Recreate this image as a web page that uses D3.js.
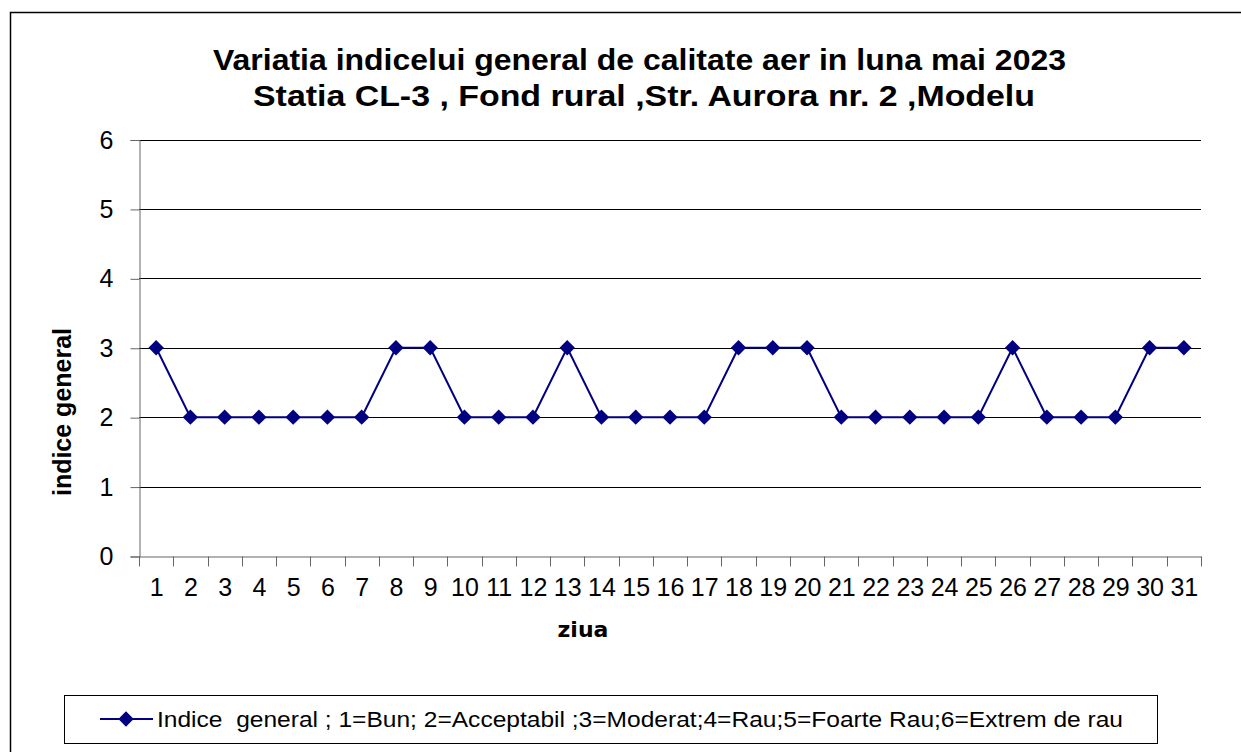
<!DOCTYPE html>
<html>
<head>
<meta charset="utf-8">
<script src="https://cdn.jsdelivr.net/npm/d3@7"></script>
<style>
  body { margin: 0; background: #fff; }
  svg { display: block; }
  text { font-family: "Liberation Sans", Arial, sans-serif; fill: #000; }
</style>
</head>
<body>
<svg id="chart" width="1241" height="752"></svg>
<script>
// data
var days = d3.range(1, 32).map(String);
var indiceGeneral = [3, 2, 2, 2, 2, 2, 2, 3, 3, 2, 2, 2, 3, 2, 2, 2, 2, 3, 3, 3, 2, 2, 2, 2, 2, 3, 2, 2, 2, 3, 3];
var yTicks = [0, 1, 2, 3, 4, 5, 6];
var titleLines = ['Variatia indicelui general de calitate aer in luna mai 2023',
  'Statia CL-3 , Fond rural ,Str. Aurora nr. 2 ,Modelu'];
var legendLabel = 'Indice  general ; 1=Bun; 2=Acceptabil ;3=Moderat;4=Rau;5=Foarte Rau;6=Extrem de rau';

var svg = d3.select('#chart');
var plotLeft = 139, plotRight = 1201, plotTop = 139.5, plotBottom = 556;
var navy = '#000080';

// outer frame
svg.append('rect').attr('x', 10.5).attr('y', 12.5).attr('width', 1250).attr('height', 760)
  .attr('fill', 'none').attr('stroke', '#000').attr('stroke-width', 1.5);

var x = d3.scaleBand().domain(days).range([plotLeft, plotRight]);
var y = d3.scaleLinear().domain([0, 6]).range([plotBottom, plotTop]);

// title (reference text is a bit wider than the font, so stretch it)
svg.append('text').attr('x', 213).attr('y', 70)
  .attr('textLength', 853).attr('lengthAdjust', 'spacingAndGlyphs')
  .style('font-size', '29px').style('font-weight', 'bold').text(titleLines[0]);
svg.append('text').attr('x', 253).attr('y', 106)
  .attr('textLength', 782).attr('lengthAdjust', 'spacingAndGlyphs')
  .style('font-size', '29px').style('font-weight', 'bold').text(titleLines[1]);

// gridlines
svg.append('g').selectAll('line').data(yTicks.filter(function(d) { return d > 0; })).enter()
  .append('line').attr('x1', plotLeft).attr('x2', plotRight)
  .attr('y1', function(d) { return Math.round(y(d)) + 0.5; })
  .attr('y2', function(d) { return Math.round(y(d)) + 0.5; })
  .attr('stroke', '#000').attr('stroke-width', 1);

// y axis
var yAxis = svg.append('g').attr('transform', 'translate(' + (plotLeft + 0.5) + ',0.5)')
  .call(d3.axisLeft(y).tickValues(yTicks).tickFormat(d3.format('d')).tickSize(9).tickPadding(17));
yAxis.select('.domain').attr('stroke', '#666');
yAxis.selectAll('.tick line').attr('stroke', '#666');
yAxis.selectAll('.tick text').style('font-size', '25px').attr('font-family', null);

// x axis
var xAxis = svg.append('g').attr('transform', 'translate(0.5,' + (Math.round(plotBottom) + 0.5) + ')')
  .call(d3.axisBottom(x).tickSize(0).tickSizeOuter(0).tickPadding(22));
xAxis.select('.domain').attr('stroke', '#666');
xAxis.selectAll('.tick text').style('font-size', '25px').attr('font-family', null);
xAxis.append('g').selectAll('line').data(days.concat(['end'])).enter().append('line')
  .attr('x1', function(d, i) { return Math.round(plotLeft + i * x.step()); })
  .attr('x2', function(d, i) { return Math.round(plotLeft + i * x.step()); })
  .attr('y1', 0).attr('y2', 10).attr('stroke', '#666');

// axis titles
svg.append('text').attr('x', 583).attr('y', 637).attr('text-anchor', 'middle')
  .style('font-family', '"DejaVu Sans", sans-serif').style('font-size', '22px').style('font-weight', 'bold').text('ziua');
svg.append('text').attr('transform', 'translate(71,412) rotate(-90)').attr('text-anchor', 'middle')
  .style('font-size', '25px').style('font-weight', 'bold').text('indice general');

// series
var cx = function(d, i) { return x(days[i]) + x.bandwidth() / 2; };
var line = d3.line().x(cx).y(function(d) { return y(d); });
svg.append('path').datum(indiceGeneral).attr('d', line)
  .attr('fill', 'none').attr('stroke', navy).attr('stroke-width', 2);
var diamond = d3.symbol().type(d3.symbolDiamond2).size(150);
svg.append('g').selectAll('path').data(indiceGeneral).enter().append('path')
  .attr('d', diamond)
  .attr('transform', function(d, i) { return 'translate(' + cx(d, i) + ',' + y(d) + ')'; })
  .attr('fill', navy);

// legend
var lg = svg.append('g');
lg.append('rect').attr('x', 64.5).attr('y', 695.5).attr('width', 1093).attr('height', 48)
  .attr('fill', '#fff').attr('stroke', '#000').attr('stroke-width', 1);
lg.append('line').attr('x1', 100).attr('x2', 153).attr('y1', 719).attr('y2', 719)
  .attr('stroke', navy).attr('stroke-width', 2);
lg.append('path').attr('d', diamond).attr('transform', 'translate(126,719)').attr('fill', navy);
lg.append('text').attr('x', 157).attr('y', 727).style('font-size', '22px').style('white-space', 'pre')
  .attr('textLength', 966).attr('lengthAdjust', 'spacingAndGlyphs')
  .text(legendLabel);
</script>
</body>
</html>
